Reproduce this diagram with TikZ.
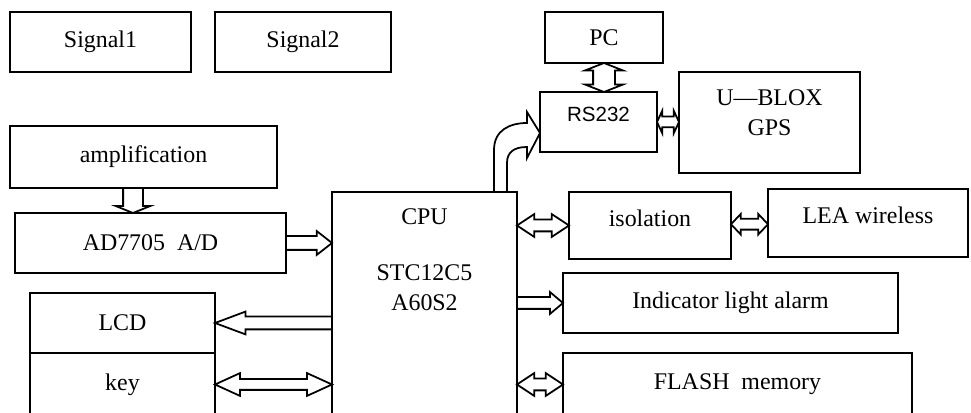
\documentclass[tikz,border=0pt]{standalone}
\usepackage{fontspec}
\setmainfont{Liberation Serif}
\newfontfamily\rsfont{Liberation Sans}
\usetikzlibrary{positioning, calc, shapes.arrows}

\begin{document}
\begin{tikzpicture}[
  line width=1pt,
  font=\fontsize{13.6}{17}\selectfont,
  box/.style={draw, rectangle, inner sep=0pt, outer sep=0pt},
  raised/.style={text depth=0.3cm},
  sarrow/.style={single arrow, draw, inner xsep=0pt, outer sep=0pt, single arrow head indent=0pt},
  darrow/.style={double arrow, draw, inner xsep=0pt, outer sep=0pt, double arrow head indent=0pt}
]
  \clip (0,0) rectangle (19.42,8.26);

  % inputs and front end
  \node[box, minimum width=3.62cm, minimum height=1.2cm] (sig1) at (2.01,7.42) {Signal1};
  \node[box, minimum width=3.52cm, minimum height=1.2cm] (sig2) at (6.06,7.42) {Signal2};
  \node[box, minimum width=5.34cm, minimum height=1.24cm] (amp) at (2.87,5.12) {amplification};
  \node[box, minimum width=5.42cm, minimum height=1.2cm] (ad) at (3.01,3.40) {AD7705~~A/D};
  \node[box, minimum width=3.70cm, minimum height=1.2cm] (lcd) at (2.45,1.80) {LCD};
  \node[box, minimum width=3.70cm, minimum height=1.26cm, below=0pt of lcd] (key) {key};

  % controller
  \node[box, minimum width=3.70cm, minimum height=4.72cm] (cpu) at (8.49,2.06) {};
  \node (cpulbl) at ($(cpu.north)+(0,-0.50)$) {CPU};
  \node[align=center] (cpuname) at ($(cpu.north)+(0,-1.92)$) {STC12C5\\A60S2};

  % communication
  \node[box, minimum width=2.36cm, minimum height=1.02cm] (pc) at (12.08,7.51) {PC};
  \node[box, raised, minimum width=2.34cm, minimum height=1.2cm, font=\rsfont\fontsize{11.7}{14}\selectfont] (rs) at (11.97,5.82) {RS232};
  \node[box, align=center, text depth=0.38cm, minimum width=3.62cm, minimum height=2.02cm] (gps) at (15.39,5.81) {U—BLOX\\GPS};
  \node[box, raised, minimum width=3.24cm, minimum height=1.34cm] (iso) at (13.00,3.75) {isolation};
  \node[box, raised, minimum width=4.00cm, minimum height=1.36cm] (lea) at (17.36,3.80) {LEA wireless};
  \node[box, minimum width=6.70cm, minimum height=1.2cm] (ind) at (14.61,2.20) {Indicator light alarm};
  \node[box, minimum width=6.98cm, minimum height=1.26cm] (flash) at (14.75,0.57) {FLASH~~memory};

  % hollow arrows
  \node[sarrow, rotate=-90, anchor=tip, minimum height=0.5cm, inner ysep=0.18cm,
    single arrow head extend=0.15cm, single arrow tip angle=136] (ampad) at ($(ad.north)+(-0.35,0)$) {};
  \node[sarrow, anchor=tip, minimum height=0.92cm, inner ysep=0.12cm,
    single arrow head extend=0.10cm, single arrow tip angle=76] (adcpu) at (ad.east -| cpu.west) {};
  \node[sarrow, rotate=180, anchor=tip, minimum height=2.34cm, inner ysep=0.11cm,
    single arrow head extend=0.10cm, single arrow tip angle=41] (cpulcd) at (lcd.east) {};
  \node[darrow, minimum height=2.34cm, inner ysep=0.09cm,
    double arrow head extend=0.12cm, double arrow tip angle=49] (keycpu) at ($(key.east)!0.5!(key.east -| cpu.west)$) {};
  \node[darrow, minimum height=1.04cm, inner ysep=0.10cm,
    double arrow head extend=0.11cm, double arrow tip angle=67] (cpuiso) at ($(iso.west)!0.5!(iso.west -| cpu.east)$) {};
  \node[sarrow, anchor=tip, minimum height=0.92cm, inner ysep=0.10cm,
    single arrow head extend=0.10cm, single arrow tip angle=80] (cpuind) at (ind.west) {};
  \node[darrow, minimum height=0.92cm, inner ysep=0.10cm,
    double arrow head extend=0.11cm, double arrow tip angle=67] (cpuflash) at ($(flash.west)!0.5!(flash.west -| cpu.east)$) {};
  \node[darrow, minimum height=0.74cm, inner ysep=0.09cm,
    double arrow head extend=0.10cm, double arrow tip angle=93] (isolea) at ($(iso.east)!0.5!(lea.west)$) {};
  \node[darrow, rotate=90, minimum height=0.58cm, inner ysep=0.20cm,
    double arrow head extend=0.16cm, double arrow tip angle=137] (pcrs) at ($(pc.south)!0.5!(pc.south |- rs.north)$) {};
  \node[darrow, minimum height=0.44cm, inner ysep=0.09cm,
    double arrow head extend=0.12cm, double arrow tip angle=130] (rsgps) at ($(rs.east)!0.5!(rs.east -| gps.west)$) {};

  % bent arrow CPU -> RS232
  \coordinate (bendfoot) at ($(cpu.north east)+(-0.46,0)$);
  \coordinate (bendtip) at ($(rs.west)+(0,-0.22)$);
  \draw (bendfoot) -- ++(0,0.84) .. controls +(0,0.40) and +(-0.34,0) .. ($(bendtip)+(-0.26,0.20)$)
    -- ++(0,0.22) -- (bendtip) -- ++(-0.26,-0.50) -- ++(0,0.22)
    .. controls +(-0.28,0) and +(0,0.20) .. ($(bendfoot)+(0.26,0.58)$) -- ++(0,-0.58);
\end{tikzpicture}
\end{document}
